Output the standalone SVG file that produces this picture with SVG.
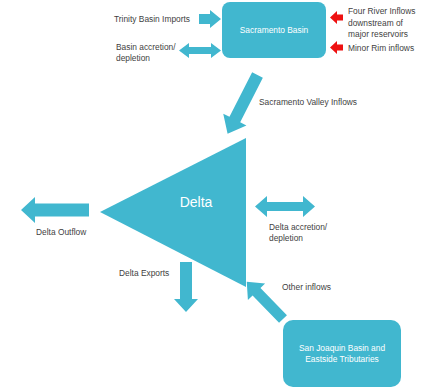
<svg xmlns="http://www.w3.org/2000/svg" width="436" height="390" viewBox="0 0 436 390">
  <style>
    .shape { fill: #41b7cf; }
    .red { fill: #ee1111; }
    .lbl { font-family: "Liberation Sans", Arial, sans-serif; font-size: 8.4px; fill: #3f3f3f; }
    .in { font-family: "Liberation Sans", Arial, sans-serif; font-size: 8.4px; fill: #ffffff; text-anchor: middle; }
    .big { font-family: "Liberation Sans", Arial, sans-serif; font-size: 14px; fill: #ffffff; text-anchor: middle; }
  </style>
  <rect width="436" height="390" fill="#ffffff"/>

  <g id="sacramento-basin">
    <rect class="shape" x="222" y="2" width="104" height="56" rx="8"/>
    <text class="in" x="274" y="33">Sacramento Basin</text>
  </g>

  <g id="delta">
    <polygon class="shape" points="246,138 246,287 100,212"/>
    <text class="big" x="196" y="207">Delta</text>
  </g>

  <g id="san-joaquin-basin">
    <rect class="shape" x="283" y="320" width="118" height="67" rx="10"/>
    <text class="in" x="342" y="351">San Joaquin Basin and</text>
    <text class="in" x="342" y="362">Eastside Tributaries</text>
  </g>

  <g id="connectors">
    <!-- Trinity Basin Imports -->
    <polygon class="shape" points="199,14 210,14 210,10 221,19 210,28 210,24 199,24"/>
    <!-- Basin accretion/depletion -->
    <polygon class="shape" points="179,50.5 189,43 189,47 211,47 211,43 221,50.5 211,58 211,54 189,54 189,58"/>
    <!-- Four River Inflows -->
    <polygon class="red" points="330,17.5 337,11 337,14.5 343,14.5 343,20.5 337,20.5 337,24"/>
    <!-- Minor Rim inflows -->
    <polygon class="red" points="330,47.5 337,41 337,44.5 343,44.5 343,50.5 337,50.5 337,54"/>
    <!-- Sacramento Valley Inflows -->
    <polygon class="shape" transform="translate(257.5,75) rotate(116.95)" points="0,-6 50,-6 50,-13 66,0 50,13 50,6 0,6"/>
    <!-- Delta Outflow -->
    <polygon class="shape" points="89,203.5 35,203.5 35,197 21,210 35,223 35,216.5 89,216.5"/>
    <!-- Delta accretion/depletion -->
    <polygon class="shape" points="255,206.5 267,196 267,202 303,202 303,196 315,206.5 303,217 303,211 267,211 267,217"/>
    <!-- Delta Exports -->
    <polygon class="shape" points="180,262 192,262 192,299 198,299 186,312 174,299 180,299"/>
    <!-- Other inflows -->
    <polygon class="shape" transform="translate(283,319) rotate(-134.2)" points="0,-5.5 38,-5.5 38,-12 52,0 38,12 38,5.5 0,5.5"/>
  </g>

  <g id="labels">
    <text class="lbl" x="114" y="22">Trinity Basin Imports</text>
    <text class="lbl" x="116" y="50">Basin accretion/</text>
    <text class="lbl" x="116" y="61">depletion</text>
    <text class="lbl" x="348" y="14">Four River Inflows</text>
    <text class="lbl" x="348" y="25.5">downstream of</text>
    <text class="lbl" x="348" y="36.5">major reservoirs</text>
    <text class="lbl" x="348" y="51">Minor Rim inflows</text>
    <text class="lbl" x="259" y="105">Sacramento Valley Inflows</text>
    <text class="lbl" x="36" y="235">Delta Outflow</text>
    <text class="lbl" x="269" y="230">Delta accretion/</text>
    <text class="lbl" x="269" y="240.5">depletion</text>
    <text class="lbl" x="119" y="276">Delta Exports</text>
    <text class="lbl" x="282" y="290">Other inflows</text>
  </g>
</svg>
